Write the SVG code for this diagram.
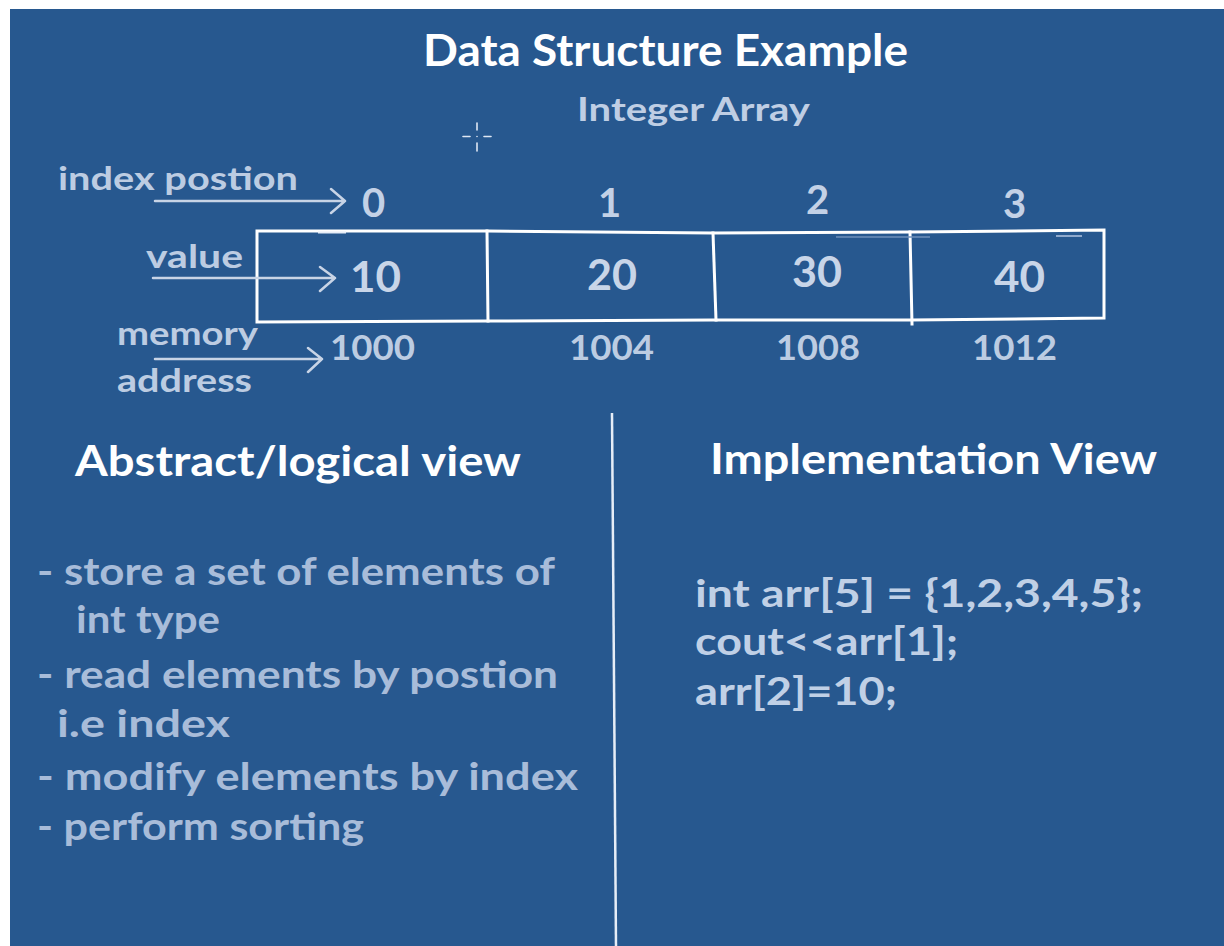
<svg xmlns="http://www.w3.org/2000/svg" width="1224" height="946" viewBox="0 0 1224 946">
  <defs>
    <style>
      .t { font-family: Lato, "Open Sans", "DejaVu Sans", sans-serif; font-weight: 700; }
      .title { fill: #ffffff; font-size: 43px; }
      .sub { fill: #bfcee4; font-size: 33px; }
      .lbl { fill: #bccce2; font-size: 32px; }
      .idx { fill: #c3d1e6; font-size: 40px; }
      .val { fill: #c8d5e8; font-size: 42px; }
      .addr { fill: #bccce2; font-size: 35px; }
      .head { fill: #ffffff; font-size: 42px; }
      .bul { fill: #a8bcd9; font-size: 38px; }
      .code { fill: #c0d0e6; font-size: 38px; }
      .arrow { fill: none; stroke: #c8d4e6; stroke-width: 2.5; stroke-linecap: round; stroke-linejoin: round; }
      .box { fill: none; stroke: #ffffff; stroke-width: 3; stroke-linecap: square; }
    </style>
  </defs>

  <!-- backdrop -->
  <rect x="0" y="0" width="1224" height="946" fill="#ffffff"/>
  <rect x="10" y="9" width="1214" height="937" fill="#27588f"/>

  <!-- heading -->
  <g id="title">
    <text class="t title" x="423" y="66" textLength="485" lengthAdjust="spacingAndGlyphs">Data Structure Example</text>
    <text class="t sub" x="577" y="121" textLength="233" lengthAdjust="spacingAndGlyphs">Integer Array</text>
  </g>

  <!-- cursor mark -->
  <g id="cursor" stroke="#dfe7f3" stroke-width="1.6" stroke-linecap="round">
    <line x1="477" y1="123" x2="477" y2="130"/>
    <line x1="477" y1="143" x2="477" y2="151"/>
    <line x1="463" y1="136.5" x2="470" y2="136.5"/>
    <line x1="484" y1="136.5" x2="491" y2="136.5"/>
    <circle cx="477" cy="136.5" r="0.8" fill="#dfe7f3" stroke="none"/>
  </g>

  <!-- array cells -->
  <g id="array">
    <path class="box" d="M257 231 L487 231 L713 233 L911 232 L1104 230 L1104 318 L911 320 L713 320 L487 321 L257 322 Z"/>
    <line class="box" x1="487" y1="231" x2="488" y2="321"/>
    <line class="box" x1="713" y1="233" x2="716" y2="320"/>
    <line class="box" x1="910" y1="232" x2="912" y2="324"/>
    <line x1="318" y1="232.5" x2="346" y2="232.5" stroke="#e6edf7" stroke-width="2"/>
    <line x1="836" y1="237" x2="930" y2="237" stroke="#6f90bb" stroke-width="1.5"/>
    <line x1="1056" y1="236" x2="1082" y2="236" stroke="#8fa9cc" stroke-width="2"/>
  </g>

  <!-- index numbers -->
  <g id="indices">
    <text class="t idx" x="362" y="217">0</text>
    <text class="t idx" x="598" y="217">1</text>
    <text class="t idx" x="806" y="214">2</text>
    <text class="t idx" x="1003" y="218">3</text>
  </g>

  <!-- stored values -->
  <g id="values">
    <text class="t val" x="350" y="292" textLength="51" lengthAdjust="spacingAndGlyphs">10</text>
    <text class="t val" x="587" y="290" textLength="50" lengthAdjust="spacingAndGlyphs">20</text>
    <text class="t val" x="792" y="287" textLength="50" lengthAdjust="spacingAndGlyphs">30</text>
    <text class="t val" x="994" y="292" textLength="51" lengthAdjust="spacingAndGlyphs">40</text>
  </g>

  <!-- memory addresses -->
  <g id="addresses">
    <text class="t addr" x="330" y="360" textLength="85" lengthAdjust="spacingAndGlyphs">1000</text>
    <text class="t addr" x="569" y="360" textLength="85" lengthAdjust="spacingAndGlyphs">1004</text>
    <text class="t addr" x="776" y="360" textLength="84" lengthAdjust="spacingAndGlyphs">1008</text>
    <text class="t addr" x="972" y="360" textLength="85" lengthAdjust="spacingAndGlyphs">1012</text>
  </g>

  <!-- side labels -->
  <g id="labels">
    <text class="t lbl" x="58" y="190" textLength="240" lengthAdjust="spacingAndGlyphs">index postion</text>
    <text class="t lbl" x="146" y="268" textLength="97" lengthAdjust="spacingAndGlyphs">value</text>
    <text class="t lbl" x="117" y="345" textLength="141" lengthAdjust="spacingAndGlyphs">memory</text>
    <text class="t lbl" x="117" y="392" textLength="135" lengthAdjust="spacingAndGlyphs">address</text>
  </g>

  <!-- pointer arrows -->
  <g id="connectors">
    <path class="arrow" d="M155 201 L345 201 M331 189 L345 201 L331 213"/>
    <path class="arrow" d="M153 278 L335 278 M320 267 L335 278 L320 291"/>
    <path class="arrow" d="M155 359 L322 359 M308 348 L322 359 L308 372"/>
  </g>

  <!-- column divider -->
  <g id="divider">
    <line x1="612" y1="413" x2="616" y2="946" stroke="#e6edf7" stroke-width="2.5"/>
  </g>

  <!-- logical view -->
  <g id="abstract-view">
    <text class="t head" x="75" y="476" textLength="446" lengthAdjust="spacingAndGlyphs">Abstract/logical view</text>
    <text class="t bul" x="37" y="585" textLength="518" lengthAdjust="spacingAndGlyphs">- store a set of elements of</text>
    <text class="t bul" x="76" y="633" textLength="144" lengthAdjust="spacingAndGlyphs">int type</text>
    <text class="t bul" x="37" y="688" textLength="521" lengthAdjust="spacingAndGlyphs">- read elements by postion</text>
    <text class="t bul" x="57" y="737" textLength="173" lengthAdjust="spacingAndGlyphs">i.e index</text>
    <text class="t bul" x="37" y="790" textLength="541" lengthAdjust="spacingAndGlyphs">- modify elements by index</text>
    <text class="t bul" x="37" y="840" textLength="327" lengthAdjust="spacingAndGlyphs">- perform sorting</text>
  </g>

  <!-- implementation view -->
  <g id="implementation-view">
    <text class="t head" x="710" y="474" textLength="447" lengthAdjust="spacingAndGlyphs">Implementation View</text>
    <text class="t code" x="695" y="607" textLength="448" lengthAdjust="spacingAndGlyphs">int arr[5] = {1,2,3,4,5};</text>
    <text class="t code" x="695" y="655" textLength="263" lengthAdjust="spacingAndGlyphs">cout&lt;&lt;arr[1];</text>
    <text class="t code" x="695" y="705" textLength="202" lengthAdjust="spacingAndGlyphs">arr[2]=10;</text>
  </g>
</svg>
